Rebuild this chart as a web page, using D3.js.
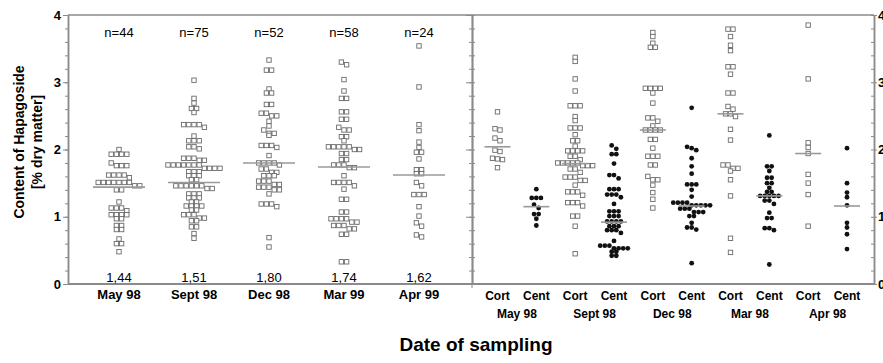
<!DOCTYPE html>
<html>
<head>
<meta charset="utf-8">
<title>Content of Hapagoside</title>
<script src="https://d3js.org/d3.v7.min.js"></script>
<style>
  body { margin: 0; background: #fff; }
  text { font-family: "Liberation Sans", Arial, sans-serif; fill: #000; }
</style>
</head>
<body>
<div id="chart"></div>
<script>
// left panel: all samples per sampling date
var leftCats = ["May 98", "Sept 98", "Dec 98", "Mar 99", "Apr 99"];
var leftN = [44, 75, 52, 58, 24];
var leftMedians = [1.44, 1.51, 1.80, 1.74, 1.62];
var leftMedianLabels = ["1,44", "1,51", "1,80", "1,74", "1,62"];

var leftMay = [2.00, 1.93, 1.93, 1.93, 1.93, 1.80, 1.76, 1.76, 1.76, 1.62, 1.62, 1.62, 1.62, 1.58,
  1.51, 1.51, 1.51, 1.51, 1.51, 1.51, 1.51, 1.46, 1.46, 1.40, 1.40, 1.22, 1.13, 1.13, 1.13, 1.09,
  1.03, 1.03, 1.03, 1.03, 0.97, 0.97, 0.87, 0.87, 0.81, 0.81, 0.67, 0.60, 0.60, 0.48];
var leftSept = [3.03, 2.76, 2.69, 2.61, 2.61, 2.55, 2.37, 2.37, 2.37, 2.37, 2.33, 2.20, 2.13, 2.13, 2.13,
  2.04, 2.04, 2.01, 1.87, 1.87, 1.87, 1.84, 1.84, 1.77, 1.77, 1.77, 1.77, 1.77, 1.77, 1.77,
  1.72, 1.72, 1.72, 1.72, 1.67, 1.67, 1.67, 1.61, 1.61, 1.61, 1.55, 1.55,
  1.46, 1.46, 1.46, 1.46, 1.46, 1.46, 1.42, 1.42, 1.34, 1.34, 1.34, 1.28, 1.28, 1.28, 1.22, 1.22,
  1.16, 1.16, 1.16, 1.16, 1.10, 1.10, 1.03, 1.03, 1.03, 0.98, 0.98, 0.94, 0.94, 0.85, 0.85, 0.75, 0.68];
var leftDec = [3.33, 3.18, 3.18, 2.90, 2.84, 2.84, 2.67, 2.67, 2.54, 2.54, 2.50, 2.50, 2.42, 2.35, 2.29,
  2.24, 2.24, 2.21, 2.06, 2.06, 2.06, 2.03, 1.91, 1.80, 1.80, 1.80, 1.80, 1.77, 1.71, 1.71, 1.66, 1.66,
  1.61, 1.61, 1.61, 1.53, 1.53, 1.53, 1.48, 1.48, 1.44, 1.44, 1.44, 1.40, 1.40, 1.34,
  1.19, 1.19, 1.19, 1.15, 0.69, 0.55];
var leftMar = [3.30, 3.26, 3.04, 2.87, 2.76, 2.76, 2.56, 2.56, 2.45, 2.45, 2.33, 2.29, 2.29, 2.19, 2.19, 2.13,
  2.04, 2.04, 2.04, 2.04, 2.04, 2.00, 2.00, 1.94, 1.94, 1.85, 1.85, 1.77, 1.77, 1.77, 1.73, 1.73, 1.61,
  1.51, 1.51, 1.51, 1.51, 1.46, 1.41, 1.26, 1.26, 1.07, 1.07, 0.97, 0.97, 0.97, 0.97, 0.92, 0.92,
  0.87, 0.87, 0.87, 0.82, 0.82, 0.74, 0.74, 0.33, 0.33];
var leftApr = [3.54, 2.93, 2.37, 2.28, 2.11, 2.03, 1.96, 1.96, 1.86, 1.70, 1.70, 1.64, 1.64, 1.51, 1.46,
  1.33, 1.33, 1.33, 1.15, 1.01, 0.91, 0.86, 0.73, 0.70];

// right panel: cortex vs. central cylinder
var rightMonths = ["May 98", "Sept 98", "Dec 98", "Mar 98", "Apr 98"];
var rightParts = ["Cort", "Cent"];
var rightMedians = [2.04, 1.15, 1.79, 0.92, 2.29, 1.16, 2.53, 1.31, 1.94, 1.16];

var cortMay = [2.56, 2.31, 2.29, 2.17, 2.13, 1.99, 1.97, 1.87, 1.86, 1.85, 1.73];
var centMay = [1.41, 1.28, 1.28, 1.28, 1.18, 1.13, 1.04, 1.04, 0.97, 0.87];
var cortSept = [3.37, 3.31, 3.05, 2.87, 2.65, 2.65, 2.65, 2.49, 2.43, 2.32, 2.32, 2.32, 2.22, 2.13, 2.13,
  2.05, 1.98, 1.98, 1.98, 1.98, 1.90, 1.90, 1.85, 1.80, 1.80, 1.80, 1.80, 1.80, 1.76, 1.76, 1.76,
  1.71, 1.71, 1.66, 1.59, 1.59, 1.59, 1.54, 1.54, 1.47, 1.37, 1.37, 1.37, 1.32, 1.21, 1.21, 1.21,
  1.16, 1.01, 1.01, 0.86, 0.45];
var centSept = [2.06, 2.01, 1.93, 1.93, 1.79, 1.62, 1.62, 1.57, 1.41, 1.41, 1.41, 1.33, 1.33, 1.33, 1.29,
  1.19, 1.08, 1.08, 1.08, 1.01, 1.01, 1.01, 0.93, 0.93, 0.93, 0.93, 0.86, 0.86, 0.86, 0.80, 0.80, 0.80,
  0.76, 0.64, 0.57, 0.57, 0.57, 0.53, 0.53, 0.53, 0.53, 0.48, 0.48, 0.42, 0.42];
var cortDec = [3.74, 3.68, 3.58, 3.52, 3.52, 2.91, 2.91, 2.91, 2.91, 2.84, 2.69, 2.47, 2.47, 2.42, 2.35,
  2.29, 2.29, 2.29, 2.29, 2.15, 2.15, 2.02, 1.90, 1.90, 1.90, 1.77, 1.77, 1.60, 1.55, 1.55, 1.47,
  1.36, 1.26, 1.13];
var centDec = [2.62, 2.04, 2.02, 1.99, 1.87, 1.75, 1.64, 1.48, 1.48, 1.48, 1.40, 1.30, 1.21, 1.21, 1.21,
  1.21, 1.17, 1.17, 1.17, 1.17, 1.17, 1.12, 1.12, 1.12, 1.07, 1.07, 1.07, 1.01, 1.01, 0.91, 0.84,
  0.84, 0.81, 0.31];
var cortMar = [3.79, 3.79, 3.68, 3.55, 3.47, 3.23, 3.23, 3.12, 2.84, 2.84, 2.64, 2.60, 2.53, 2.53, 2.49,
  2.30, 2.14, 1.77, 1.77, 1.72, 1.72, 1.68, 1.55, 1.31, 0.68, 0.47];
var centMar = [2.21, 1.75, 1.75, 1.68, 1.58, 1.58, 1.50, 1.50, 1.43, 1.37, 1.37, 1.31, 1.31, 1.31, 1.31,
  1.31, 1.24, 1.24, 1.19, 1.06, 0.98, 0.98, 0.83, 0.83, 0.80, 0.29];
var cortApr = [3.85, 3.05, 2.10, 2.03, 1.94, 1.63, 1.50, 1.33, 0.86];
var centApr = [2.02, 1.50, 1.36, 1.29, 1.17, 0.91, 0.84, 0.74, 0.52];

var yTicks = [0, 1, 2, 3, 4];

var leftValues = [leftMay, leftSept, leftDec, leftMar, leftApr];
var rightValues = [cortMay, centMay, cortSept, centSept, cortDec, centDec, cortMar, centMar, cortApr, centApr];

var width = 883, height = 363;
var svg = d3.select("#chart").append("svg")
  .attr("width", width)
  .attr("height", height);

var xL = 68, xMid = 472, xR = 874;
var y = d3.scaleLinear().domain([0, 4]).range([284, 15]);

var xLeft = d3.scalePoint().domain(leftCats).range([119, 419]);
var rightKeys = [];
rightMonths.forEach(function(m) {
  rightParts.forEach(function(p) { rightKeys.push(p + " " + m); });
});
var xRight = d3.scalePoint().domain(rightKeys).range([497.5, 847]);

var axisColor = "#8a8a8a";
var minorTicks = d3.range(21).map(function(i) { return i / 5; });

// frame lines
svg.append("line").attr("x1", xL).attr("x2", xR).attr("y1", y(4)).attr("y2", y(4))
  .attr("stroke", axisColor).attr("stroke-width", 1.5);
svg.append("line").attr("x1", xL).attr("x2", xR).attr("y1", y(0)).attr("y2", y(0))
  .attr("stroke", axisColor).attr("stroke-width", 2);

function styleAxis(g) {
  g.selectAll("path").attr("stroke", axisColor).attr("stroke-width", 1.5);
  g.selectAll("line").attr("stroke", axisColor);
  g.selectAll("text").style("font-size", "13px").style("font-weight", "bold").attr("fill", "#000");
}

// left y axis
svg.append("g").attr("transform", "translate(" + xL + ",0)")
  .call(d3.axisLeft(y).tickValues(minorTicks).tickSize(3).tickSizeOuter(0).tickFormat(""))
  .call(styleAxis);
svg.append("g").attr("transform", "translate(" + xL + ",0)")
  .call(d3.axisLeft(y).tickValues(yTicks).tickSize(5).tickSizeOuter(0).tickPadding(2).tickFormat(d3.format("d")))
  .call(styleAxis);

// divider with ticks both sides
svg.append("g").attr("transform", "translate(" + xMid + ",0)")
  .call(d3.axisLeft(y).tickValues(minorTicks).tickSize(3).tickSizeOuter(0).tickFormat(""))
  .call(styleAxis);
svg.append("g").attr("transform", "translate(" + xMid + ",0)")
  .call(d3.axisRight(y).tickValues(minorTicks).tickSize(3).tickSizeOuter(0).tickFormat(""))
  .call(styleAxis);
svg.append("g").attr("transform", "translate(" + xMid + ",0)")
  .call(d3.axisLeft(y).tickValues(yTicks).tickSize(6).tickSizeOuter(0).tickFormat(""))
  .call(styleAxis);
svg.append("line").attr("x1", xMid).attr("x2", xMid).attr("y1", y(0)).attr("y2", y(0) + 4)
  .attr("stroke", axisColor);

// right y axis
svg.append("g").attr("transform", "translate(" + xR + ",0)")
  .call(d3.axisLeft(y).tickValues(minorTicks).tickSize(3).tickSizeOuter(0).tickFormat(""))
  .call(styleAxis);
svg.append("g").attr("transform", "translate(" + xR + ",0)")
  .call(d3.axisRight(y).tickValues(yTicks).tickSize(3).tickSizeOuter(0).tickPadding(1).tickFormat(d3.format("d")))
  .call(styleAxis);

// place points in centred rows so equal values sit side by side
function swarm(values, cx, step) {
  var sorted = values.slice().sort(function(a, b) { return b - a; });
  var rows = [], cur = null;
  sorted.forEach(function(v) {
    var py = y(v);
    if (cur && Math.abs(py - cur.y0) < 3.5) {
      cur.items.push(v);
    } else {
      cur = { y0: py, items: [v] };
      rows.push(cur);
    }
  });
  var pts = [];
  rows.forEach(function(r) {
    var n = r.items.length;
    r.items.forEach(function(v, i) {
      pts.push({ x: cx + (i - (n - 1) / 2) * step, y: y(v) });
    });
  });
  return pts;
}

function drawSquares(pts) {
  svg.append("g").selectAll("rect").data(pts).enter().append("rect")
    .attr("x", function(d) { return d.x - 2.2; })
    .attr("y", function(d) { return d.y - 2.2; })
    .attr("width", 4.4).attr("height", 4.4)
    .attr("fill", "#fff").attr("stroke", "#6a6a6a").attr("stroke-width", 0.9);
}
function drawDots(pts) {
  svg.append("g").selectAll("circle").data(pts).enter().append("circle")
    .attr("cx", function(d) { return d.x; })
    .attr("cy", function(d) { return d.y; })
    .attr("r", 2.4).attr("fill", "#111");
}

// left panel
leftCats.forEach(function(c, i) {
  var cx = xLeft(c);
  drawSquares(swarm(leftValues[i], cx, 5.2));
  svg.append("line").attr("x1", cx - 26).attr("x2", cx + 26)
    .attr("y1", y(leftMedians[i])).attr("y2", y(leftMedians[i]))
    .attr("stroke", "#9a9a9a").attr("stroke-width", 1.6);
  svg.append("text").attr("x", cx).attr("y", 37).attr("text-anchor", "middle")
    .style("font-size", "13px").text("n=" + leftN[i]);
  svg.append("text").attr("x", cx).attr("y", 282).attr("text-anchor", "middle")
    .style("font-size", "13px").text(leftMedianLabels[i]);
  svg.append("text").attr("x", cx).attr("y", 299).attr("text-anchor", "middle")
    .style("font-size", "13px").style("font-weight", "bold").text(c);
});

// right panel
rightKeys.forEach(function(k, i) {
  var cx = xRight(k);
  var isCort = i % 2 === 0;
  if (isCort) drawSquares(swarm(rightValues[i], cx, 5.0));
  else drawDots(swarm(rightValues[i], cx, 4.6));
  svg.append("line").attr("x1", cx - 13).attr("x2", cx + 13)
    .attr("y1", y(rightMedians[i])).attr("y2", y(rightMedians[i]))
    .attr("stroke", "#9a9a9a").attr("stroke-width", 1.6);
  svg.append("text").attr("x", cx).attr("y", 300).attr("text-anchor", "middle")
    .style("font-size", "12px").style("font-weight", "bold").text(rightParts[i % 2]);
});
rightMonths.forEach(function(m) {
  var cx = (xRight("Cort " + m) + xRight("Cent " + m)) / 2;
  svg.append("text").attr("x", cx).attr("y", 318).attr("text-anchor", "middle")
    .style("font-size", "12px").style("font-weight", "bold").text(m);
});

// axis titles
svg.append("text").attr("transform", "translate(24,142) rotate(-90)")
  .attr("text-anchor", "middle").style("font-size", "14px").style("font-weight", "bold")
  .text("Content of Hapagoside");
svg.append("text").attr("transform", "translate(42,142) rotate(-90)")
  .attr("text-anchor", "middle").style("font-size", "14px").style("font-weight", "bold")
  .text("[% dry matter]");
svg.append("text").attr("x", 476).attr("y", 351).attr("text-anchor", "middle")
  .style("font-size", "19px").style("font-weight", "bold").text("Date of sampling");
</script>
</body>
</html>
